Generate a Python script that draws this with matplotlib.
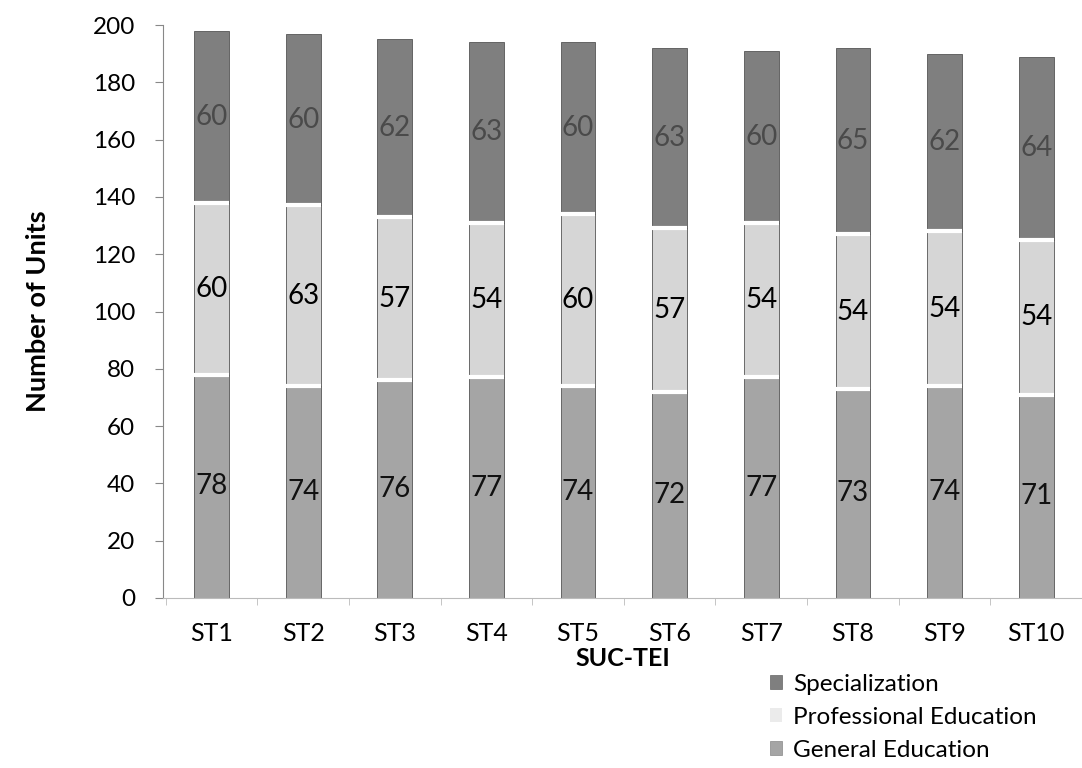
import matplotlib.pyplot as plt
from matplotlib.patches import Patch
import numpy as np

plt.rcParams['font.family'] = ['Lato', 'DejaVu Sans']

schools = ['ST1', 'ST2', 'ST3', 'ST4', 'ST5', 'ST6', 'ST7', 'ST8', 'ST9', 'ST10']
general_ed = [78, 74, 76, 77, 74, 72, 77, 73, 74, 71]
professional_ed = [60, 63, 57, 54, 60, 57, 54, 54, 54, 54]
specialization = [60, 60, 62, 63, 60, 63, 60, 65, 62, 64]

c_spec = '#7f7f7f'
c_prof = '#d6d6d6'
c_gen = '#a5a5a5'

fig = plt.figure(figsize=(10.82, 7.68), dpi=100)
ax = fig.add_axes([163/1082, 1-598/768, 1-163/1082, (598-25)/768])

x = np.arange(len(schools))
w = 0.38
gen = np.array(general_ed)
prof = np.array(professional_ed)
spec = np.array(specialization)

def seg(bottom, h, color):
    ax.bar(x, h, w, bottom=bottom, color=color, edgecolor='#555555', linewidth=0.6, zorder=2)

seg(0, gen, c_gen)
seg(gen, prof, c_prof)
seg(gen + prof, spec, c_spec)
# white gaps between the stacked segments
for yb in [gen, gen + prof]:
    ax.hlines(yb, x - w/2, x + w/2, colors='white', linewidth=3, zorder=4)

for i in range(len(schools)):
    ax.text(x[i], gen[i]/2, str(gen[i]), ha='center', va='center', fontsize=20, color='#111111', zorder=5)
    ax.text(x[i], gen[i] + prof[i]/2, str(prof[i]), ha='center', va='center', fontsize=20, color='black', zorder=5)
    ax.text(x[i], gen[i] + prof[i] + spec[i]/2, str(spec[i]), ha='center', va='center', fontsize=20, color='#4a4a4a', zorder=5)

ax.set_ylim(0, 200)
ax.set_xlim(-0.53, 9.4)
ax.set_yticks(range(0, 201, 20))
ax.set_xticks(x)
ax.set_xticklabels(schools)
ax.set_xticks(np.arange(-0.5, 9.6, 1), minor=True)
ax.tick_params(axis='y', labelsize=17.5, length=6, color='#888888', pad=14)
ax.tick_params(axis='x', which='major', labelsize=18, length=0, pad=17)
ax.tick_params(axis='x', which='minor', length=5, color='#bbbbbb')

for s in ['top', 'right']:
    ax.spines[s].set_visible(False)
ax.spines['left'].set_color('#888888')
ax.spines['bottom'].set_color('#bbbbbb')

ax.set_ylabel('Number of Units', fontsize=19.5, fontweight='bold', labelpad=31)
ax.set_xlabel('SUC-TEI', fontsize=18, fontweight='bold', labelpad=2)

handles = [Patch(facecolor=c_spec, edgecolor='#666666', linewidth=0.5),
           Patch(facecolor='#ebebeb', edgecolor='none'),
           Patch(facecolor=c_gen, edgecolor='#888888', linewidth=0.5)]
fig.legend(handles, ['Specialization', 'Professional Education', 'General Education'],
           loc='upper left', bbox_to_anchor=(760/1082, 1-664/768), frameon=False,
           fontsize=17.5, handlelength=0.5, handleheight=0.5, handletextpad=0.45,
           labelspacing=0.5, borderaxespad=0)

fig.savefig('out.png', dpi=100)
